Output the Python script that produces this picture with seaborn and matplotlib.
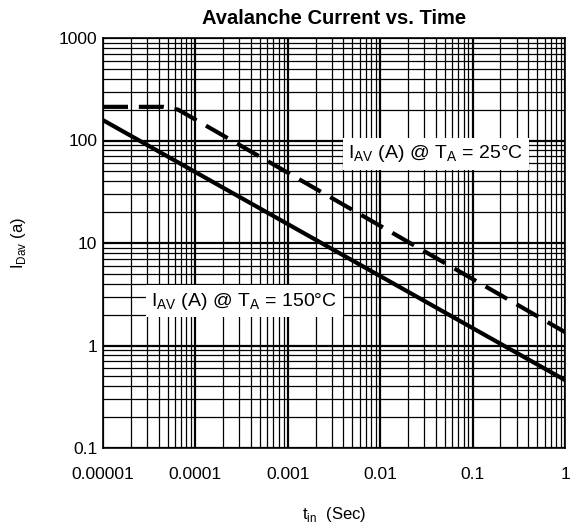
import numpy as np
import pandas as pd
import matplotlib
matplotlib.use("Agg")
import matplotlib.pyplot as plt
import seaborn as sns
from matplotlib.ticker import LogLocator, FixedLocator, FixedFormatter, NullFormatter

# Data
t_150 = [1e-5, 1.0]
i_150 = [158, 0.46]
t_25 = [1e-5, 4.5e-5, 6.5e-5, 1.0]
i_25 = [213, 213, 200, 1.35]

x_ticks = [1e-5, 1e-4, 1e-3, 1e-2, 1e-1, 1]
x_labels = ["0.00001", "0.0001", "0.001", "0.01", "0.1", "1"]
y_ticks = [0.1, 1, 10, 100, 1000]
y_labels = ["0.1", "1", "10", "100", "1000"]

sns.set_theme(style="white")
plt.rcParams['font.family'] = ['Liberation Sans', 'DejaVu Sans']
plt.rcParams['mathtext.fontset'] = 'custom'
plt.rcParams['mathtext.rm'] = 'Liberation Sans'
plt.rcParams['text.color'] = 'black'
plt.rcParams['axes.labelcolor'] = 'black'

fig = plt.figure(figsize=(5.70, 5.23), dpi=100)
ax = fig.add_axes([103/570, 1-448/523, (565-103)/570, (448-38)/523])

df150 = pd.DataFrame({"t": t_150, "i": i_150})
df25 = pd.DataFrame({"t": t_25, "i": i_25})

ax.set_xscale("log")
ax.set_yscale("log")
ax.set_xlim(1e-5, 1)
ax.set_ylim(0.1, 1000)

ax.xaxis.set_major_locator(FixedLocator(x_ticks))
ax.xaxis.set_major_formatter(FixedFormatter(x_labels))
ax.yaxis.set_major_locator(FixedLocator(y_ticks))
ax.yaxis.set_major_formatter(FixedFormatter(y_labels))
ax.xaxis.set_minor_locator(LogLocator(base=10, subs=np.arange(2, 10)))
ax.yaxis.set_minor_locator(LogLocator(base=10, subs=np.arange(2, 10)))
ax.xaxis.set_minor_formatter(NullFormatter())
ax.yaxis.set_minor_formatter(NullFormatter())

ax.grid(which="major", color="black", linewidth=1.6)
ax.grid(which="minor", color="black", linewidth=0.9)
ax.set_axisbelow(True)
ax.tick_params(which="both", length=0, labelsize=12.5, colors="black")
ax.tick_params(axis="x", pad=14)
ax.tick_params(axis="y", pad=4)

sns.lineplot(data=df150, x="t", y="i", ax=ax, color="black", linewidth=3.0, zorder=5)
sns.lineplot(data=df25, x="t", y="i", ax=ax, color="black", linewidth=3.0, zorder=5)
ax.lines[-1].set_dashes([6, 2.6])

for s in ax.spines.values():
    s.set_color("black")
    s.set_linewidth(1.2)

ax.set_xlim(1e-5, 1)
ax.set_ylim(0.1, 1000)

bbox = dict(facecolor="white", edgecolor="none", pad=4)
ax.text(0.04, 74, r"I$_{\mathregular{AV}}$ (A) @ T$_{\mathregular{A}}$ = 25°C",
        fontsize=14, ha="center", va="center", bbox=bbox, zorder=6)
ax.text(0.00034, 2.7, r"I$_{\mathregular{AV}}$ (A) @ T$_{\mathregular{A}}$ = 150°C",
        fontsize=14, ha="center", va="center", bbox=bbox, zorder=6)

ax.set_title("Avalanche Current vs. Time", fontsize=14.5, fontweight="bold", pad=10)
ax.set_xlabel(r"t$_{\mathregular{in}}$  (Sec)", fontsize=12, labelpad=16)
ax.set_ylabel(r"I$_{\mathregular{Dav}}$ (a)", fontsize=12, labelpad=22)

fig.savefig("out.png", dpi=100)
